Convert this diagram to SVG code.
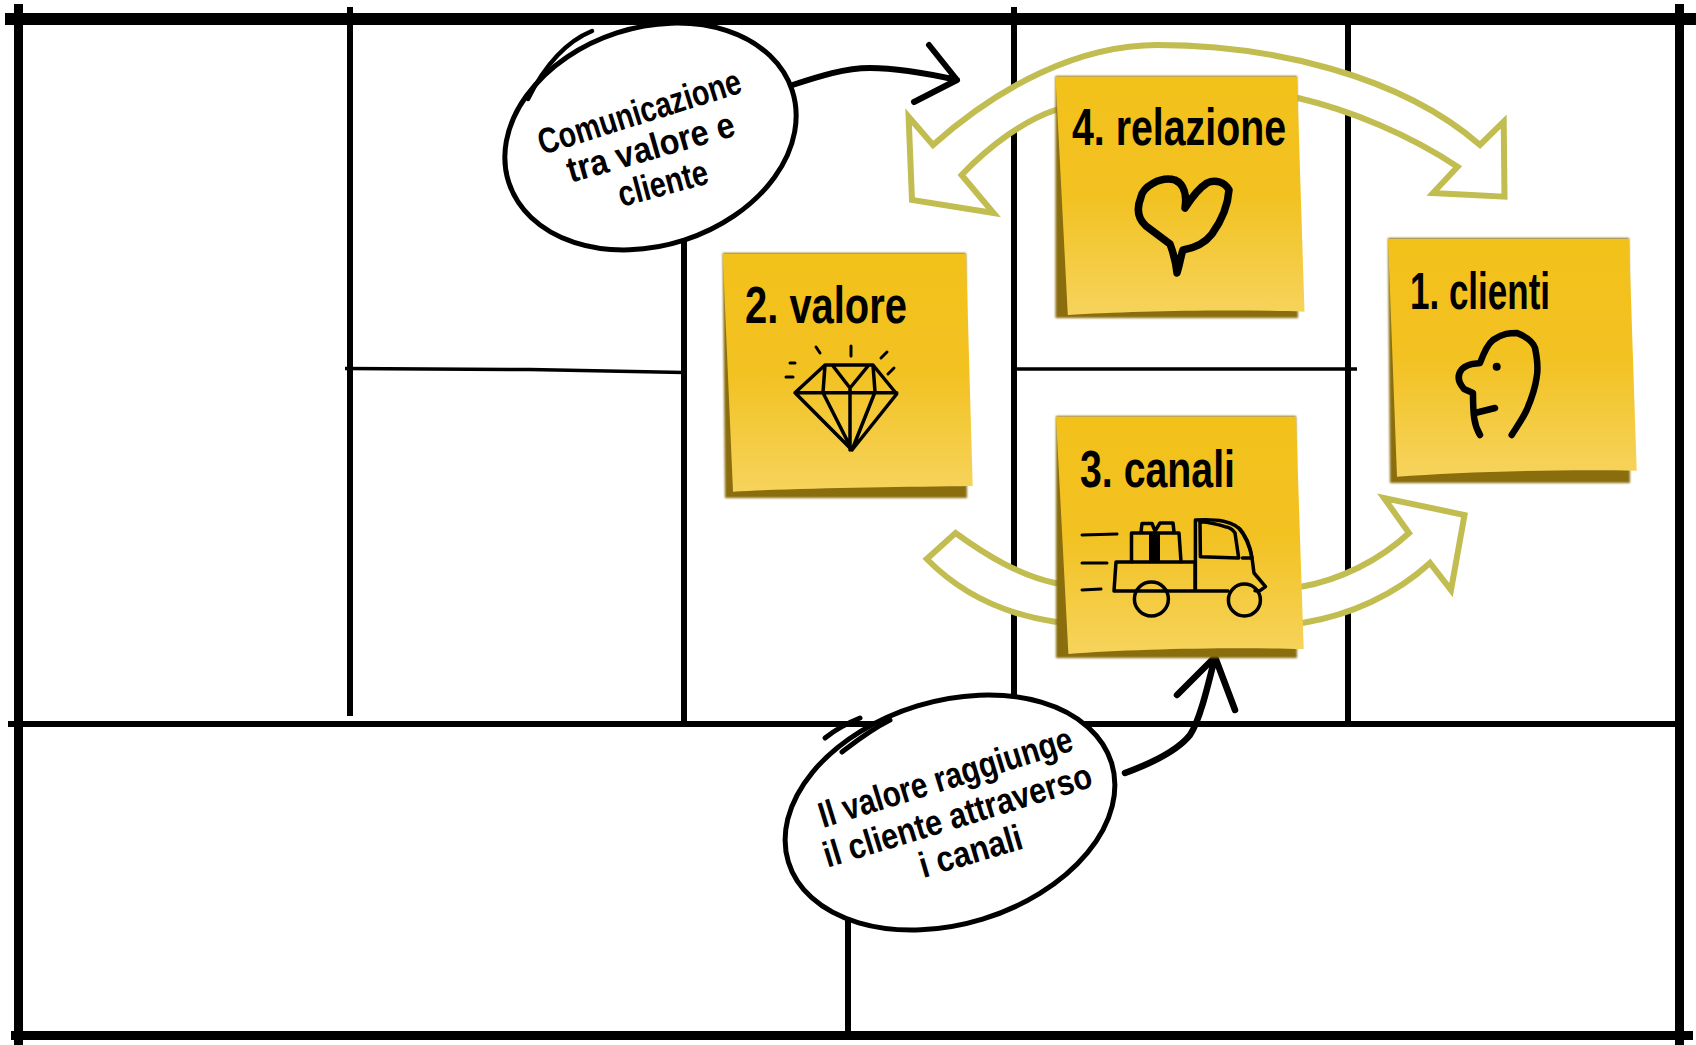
<svg xmlns="http://www.w3.org/2000/svg" width="1696" height="1045" viewBox="0 0 1696 1045">
<style>
.grid{stroke:#000;fill:none}
.sheet{fill:url(#paper)}
.back{fill:#8a6d0a;filter:url(#soft)}
.olive{fill:#fff;stroke:#c1bd50;stroke-width:6;stroke-linejoin:miter}
.ink{fill:none;stroke:#000;stroke-linecap:round;stroke-linejoin:round}
.bubble{fill:#fff;stroke:#000;stroke-width:5}
.title{font-family:"Liberation Sans Narrow","Liberation Sans",sans-serif;font-weight:700;font-size:52px;fill:#000}
.note{font-family:"Liberation Sans Narrow","Liberation Sans",sans-serif;font-weight:700;font-size:36px;fill:#000;text-anchor:middle}
</style>
<defs>
<linearGradient id="paper" x1="0" y1="0" x2="0" y2="1">
<stop offset="0" stop-color="#f2c11a"/><stop offset="0.5" stop-color="#f2c222"/><stop offset="1" stop-color="#f6d35c"/>
</linearGradient>
<filter id="soft" x="-5%" y="-5%" width="110%" height="110%"><feGaussianBlur stdDeviation="1.2"/></filter>
</defs>
<rect width="1696" height="1045" fill="#fff"/>
<g id="grid" class="grid">
<path stroke-width="12" d="M5 19H1696"/>
<path stroke-width="9" d="M18.500 4V1045M1679.500 4V1045M11 1035.500H1693"/>
<path stroke-width="6" d="M8 724H1675M350 7V716M684 240V724M1014 7V724M1348 20V724M848 905V1032"/>
<path stroke-width="3.500" d="M345 368.500L530 369.500L684 372.500M1016 369H1357"/>
</g>
<g id="connectors">
<path class="olive" d="M933 145C1000 85 1080 45 1157.500 45C1270 45 1400 75 1480 145L1503.700 121.700L1504.500 196.700L1433 193L1457.500 166.700C1410 135 1350 110 1298 98L1055.500 110C1025 120 990 145 961.600 175L993.500 213L912 200L908.600 116.700Z"/>
<path class="olive" d="M1055 583C1020 575 990 558 955.500 533L926.800 559C965 598 1010 615 1055 621.700L1303.700 622.700C1350 615 1395 595 1430 563L1451 590L1464.500 515L1384 498L1409 533C1380 560 1340 580 1301 586.700Z"/>
<path class="ink" stroke-width="6" d="M792.500 85C820 76 845 68 870 68C900 68 930 74 957 80M929 45L957 80L914 102"/>
<path class="ink" stroke-width="6.500" d="M1125 773C1155 762 1178 750 1190 735C1200 720 1208 685 1215 657M1177 695L1215 657L1235 710"/>
</g>
<g id="bubble-comunicazione">
<ellipse class="bubble" cx="650.500" cy="136.500" rx="149" ry="109" transform="rotate(-18 650.500 136.500)"/>
<path class="ink" stroke-width="4.500" d="M592 31C565 42 545 65 528 99"/>
<text class="note" transform="translate(643 123.500) rotate(-17.400)" textLength="211" lengthAdjust="spacingAndGlyphs">Comunicazione</text>
<text class="note" transform="translate(654 159) rotate(-16)" textLength="173" lengthAdjust="spacingAndGlyphs">tra valore e</text>
<text class="note" transform="translate(666 195) rotate(-15)" textLength="92" lengthAdjust="spacingAndGlyphs">cliente</text>
</g>
<g id="bubble-canali">
<ellipse class="bubble" cx="950" cy="812.500" rx="169" ry="111.500" transform="rotate(-17 950 812.500)"/>
<path class="ink" stroke-width="5" d="M860 718C845 724 835 730 825 738M842 752C855 742 870 730 890 720"/>
<text class="note" transform="translate(949 789) rotate(-17.200)" textLength="264" lengthAdjust="spacingAndGlyphs">Il valore raggiunge</text>
<text class="note" transform="translate(961 827) rotate(-17)" textLength="279" lengthAdjust="spacingAndGlyphs">il cliente attraverso</text>
<text class="note" transform="translate(974 863) rotate(-16.400)" textLength="106" lengthAdjust="spacingAndGlyphs">i canali</text>
</g>
<g id="note-valore">
<path class="back" d="M722.700 253H966L967 498H725Z"/>
<path class="sheet" d="M722.700 254H966L972.700 486C900 487 800 488 733 491.700Z"/>
<text class="title" x="745" y="323" textLength="162" lengthAdjust="spacingAndGlyphs">2. valore</text>
<g class="ink" stroke-width="3.500">
<path d="M825 365H873L896.700 394L852 450L795 392.700ZM795 392.700H896.700M825 365L823 392.700L852 450M873 365L875 392L852 450M833 366L850 388L868 366M850 388V450"/>
<path stroke-width="3" d="M790 363H795M786 377H793M816 347L820 353M851 346V356M881 358L887 352M888 374L894 368"/>
</g>
</g>
<g id="note-relazione">
<path class="back" d="M1055.500 76H1297L1298 318H1055.500Z"/>
<path class="sheet" d="M1055.500 76.700H1297L1304.500 311.700C1230 309 1130 311 1067.800 315Z"/>
<text class="title" x="1072" y="145" textLength="214" lengthAdjust="spacingAndGlyphs">4. relazione</text>
<path class="ink" stroke-width="7.500" d="M1185 208C1187 195 1184 184 1175 180C1160 176 1143 187 1141 197C1137 207 1137 218 1146 226L1170 244C1173 252 1176 263 1177 273C1180 263 1181 255 1183 250C1195 248 1205 243 1212 234C1222 220 1228 205 1229 190C1225 182 1215 179 1207 183C1199 188 1192 197 1185 208Z"/>
</g>
<g id="note-canali">
<path class="back" d="M1056 416H1296L1297 658H1056Z"/>
<path class="sheet" d="M1056 416.700H1296L1303.700 649C1230 647 1130 649 1068.400 654Z"/>
<text class="title" x="1080" y="487" textLength="155" lengthAdjust="spacingAndGlyphs">3. canali</text>
<g class="ink" stroke-width="3.500">
<path d="M1116 562H1195V591H1134M1116 562L1114 591H1134M1168 591H1228M1195.400 520V591M1195.400 520C1215 519 1235 520 1243 533C1252 546 1252 560 1254 573L1265.500 586.700L1260 590.700H1255"/>
<path d="M1200 521.700L1200.400 556.700L1238.700 558L1235 533C1232 528 1228 527 1225 526.700C1215 523 1205 522 1200 521.700ZM1238.700 528C1247 538 1250 548 1252 558L1242.500 558"/>
<circle cx="1151.400" cy="599" r="17"/><circle cx="1244.400" cy="600" r="16"/>
<path d="M1131.500 561.700V533H1179L1181 561.700"/>
<path d="M1141 532L1142 523.500H1152L1155 531M1155 531L1160 523H1173L1174 532"/>
<path stroke-width="11" stroke-linecap="butt" d="M1154.500 532V562"/>
<path stroke-width="3" d="M1082 535L1117 534M1082 563H1107M1082 590L1101 589"/>
</g>
</g>
<g id="note-clienti">
<path class="back" d="M1388 238H1629L1630 483H1390Z"/>
<path class="sheet" d="M1388 239H1629L1636.700 470.700C1560 469 1460 472 1397 476.700Z"/>
<text class="title" x="1410" y="309" textLength="140" lengthAdjust="spacingAndGlyphs">1. clienti</text>
<path class="ink" stroke-width="6.500" d="M1480 435C1474 425 1473 415 1473 393L1464 389C1458 382 1457 375 1462 369C1468 363 1475 364 1480 363C1484 352 1488 344 1493 340C1503 333 1510 333 1517 333C1527 337 1533 342 1535 348C1538 362 1538 370 1536.700 377C1535 390 1531 400 1526.700 410C1522 420 1516 428 1511.700 435M1475 413L1495 408"/>
<circle cx="1496.700" cy="366.700" r="4"/>
</g>
</svg>
